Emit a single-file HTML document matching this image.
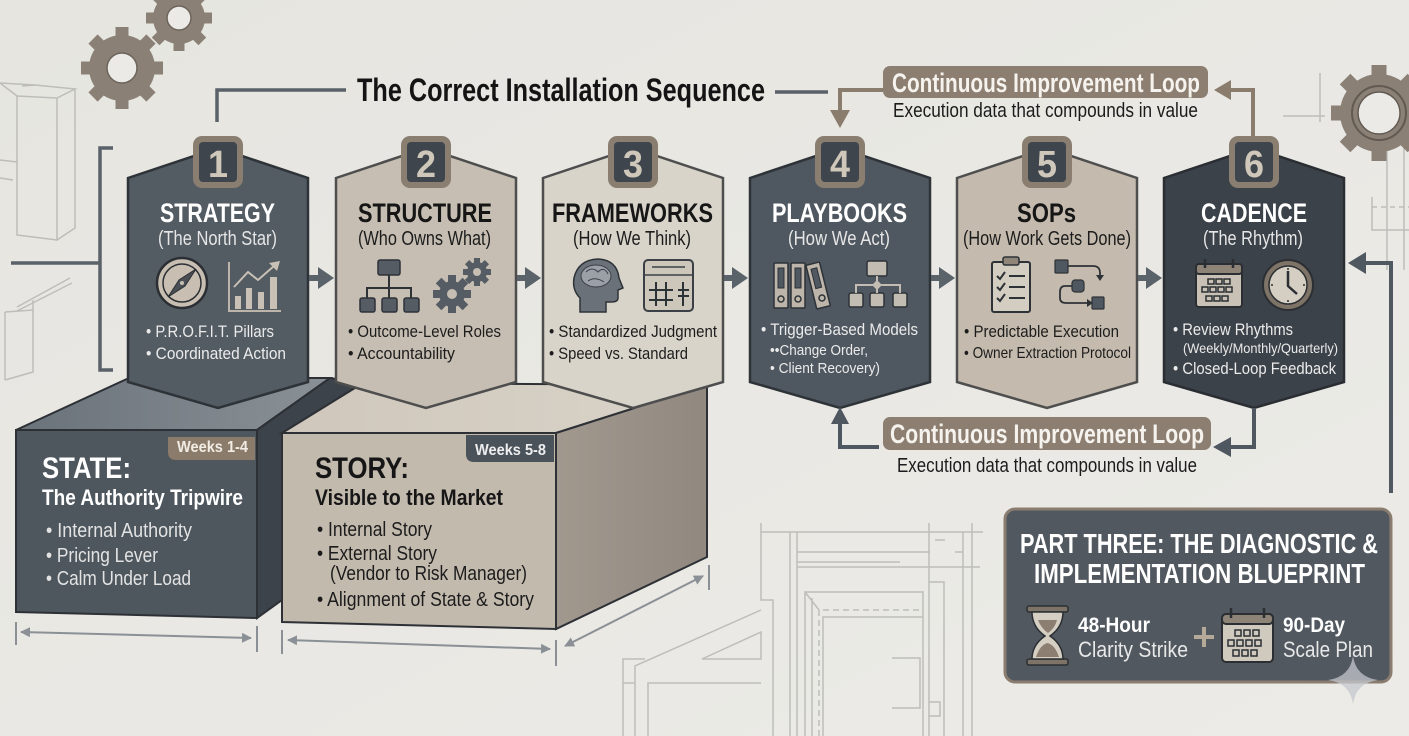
<!DOCTYPE html>
<html><head><meta charset="utf-8"><style>
html,body{margin:0;padding:0;background:#e8e7e2;}
svg{display:block;}
text{font-family:"Liberation Sans Narrow","Liberation Sans",sans-serif;}
.b{font-weight:bold;}
</style></head><body>
<svg width="1409" height="736" viewBox="0 0 1409 736" xmlns="http://www.w3.org/2000/svg">
<defs>
<linearGradient id="bg" x1="0" y1="0" x2="1" y2="1"><stop offset="0" stop-color="#e6e5e0"/><stop offset="1" stop-color="#ecebe7"/></linearGradient>
<linearGradient id="stTop" x1="0" y1="0" x2="1" y2="0"><stop offset="0" stop-color="#6a727a"/><stop offset="1" stop-color="#8a9196"/></linearGradient>
<linearGradient id="syTop" x1="0" y1="0" x2="1" y2="0"><stop offset="0" stop-color="#cfc7bb"/><stop offset="1" stop-color="#d9d3c9"/></linearGradient>
<linearGradient id="sySide" x1="0" y1="0" x2="1" y2="0"><stop offset="0" stop-color="#a1988e"/><stop offset="1" stop-color="#918880"/></linearGradient>
<marker id="ah" viewBox="0 0 10 10" refX="9" refY="5" markerWidth="5" markerHeight="5" orient="auto-start-reverse"><path d="M0,0 L10,5 L0,10 Z" fill="#8a9096"/></marker>
</defs>
<rect width="1409" height="736" fill="url(#bg)"/>

<!-- faint background line drawings -->
<g fill="none" stroke="#bdbdb9" stroke-width="1.5">
<path d="M0,83 L35,85 L75,89 L57,98 L17,96 Z"/>
<path d="M17,96 L17,235 L57,240 L57,98"/>
<path d="M57,240 L75,228 L75,89"/>
<path d="M0,160 L17,162 M0,178 L13,180 M22,86 L35,85"/>
<path d="M17,307 L70,278 M17,311 L72,283"/>
<path d="M5,312 L33,310 L33,372 L5,380 M5,312 L5,380 M33,310 L33,300"/>
<!-- bottom blueprint -->
<path d="M761,523 L761,600 L773,600 L773,736 M761,532 L983,532 M790,532 L790,736 M797,532 L797,736"/>
<path d="M797,552 L930,552 M797,562 L900,562 M797,567 L980,567 M929,523 L929,736 M963,532 L963,736 M972,523 L972,736"/>
<path d="M929,582 L944,582 L944,736 M935,540 L945,540 M955,552 L963,552"/>
<path d="M805,736 L805,592 L923,592 L923,736 M812,736 L812,598 M823,736 L823,617 L923,617 M805,592 L819,610"/>
<path d="M819,610 L819,736 M823,610 L923,610" stroke-dasharray="6,4"/>
<path d="M892,658 L920,658 L920,708 L892,708 M929,702 L940,702 L940,716 L929,716"/>
<path d="M761,610 L635,666 L635,736 M648,736 L648,683 L761,683 M623,736 L623,659 L645,659 M702,659 L761,632 L761,659 Z M623,683 L635,683"/>
<!-- right side -->
<path d="M1283,116 L1325,116 M1320,73 L1320,122 M1372,197 L1372,230 L1409,230 M1387,150 L1387,270 M1404,120 L1404,270"/>
<path d="M1372,207 L1409,207" stroke-dasharray="5,4"/>
</g>

<!-- gears -->
<g fill="#8a8076">
<circle cx="122" cy="68" r="33"/>
<g><rect x="115.5" y="27" width="13" height="12" transform="rotate(0 122 68)"/><rect x="115.5" y="27" width="13" height="12" transform="rotate(45 122 68)"/><rect x="115.5" y="27" width="13" height="12" transform="rotate(90 122 68)"/><rect x="115.5" y="27" width="13" height="12" transform="rotate(135 122 68)"/><rect x="115.5" y="27" width="13" height="12" transform="rotate(180 122 68)"/><rect x="115.5" y="27" width="13" height="12" transform="rotate(225 122 68)"/><rect x="115.5" y="27" width="13" height="12" transform="rotate(270 122 68)"/><rect x="115.5" y="27" width="13" height="12" transform="rotate(315 122 68)"/></g>
<circle cx="179" cy="18" r="26"/>
<g><rect x="173.5" y="-15" width="11" height="10" transform="rotate(0 179 18)"/><rect x="173.5" y="-15" width="11" height="10" transform="rotate(45 179 18)"/><rect x="173.5" y="-15" width="11" height="10" transform="rotate(90 179 18)"/><rect x="173.5" y="-15" width="11" height="10" transform="rotate(135 179 18)"/><rect x="173.5" y="-15" width="11" height="10" transform="rotate(180 179 18)"/><rect x="173.5" y="-15" width="11" height="10" transform="rotate(225 179 18)"/><rect x="173.5" y="-15" width="11" height="10" transform="rotate(270 179 18)"/><rect x="173.5" y="-15" width="11" height="10" transform="rotate(315 179 18)"/></g>
<circle cx="1379" cy="113" r="39"/>
<g><rect x="1371.5" y="65" width="15" height="13" transform="rotate(0 1379 113)"/><rect x="1371.5" y="65" width="15" height="13" transform="rotate(45 1379 113)"/><rect x="1371.5" y="65" width="15" height="13" transform="rotate(90 1379 113)"/><rect x="1371.5" y="65" width="15" height="13" transform="rotate(135 1379 113)"/><rect x="1371.5" y="65" width="15" height="13" transform="rotate(180 1379 113)"/><rect x="1371.5" y="65" width="15" height="13" transform="rotate(225 1379 113)"/><rect x="1371.5" y="65" width="15" height="13" transform="rotate(270 1379 113)"/><rect x="1371.5" y="65" width="15" height="13" transform="rotate(315 1379 113)"/></g>
</g>
<circle cx="122" cy="68" r="15" fill="#ebeae6" stroke="#6c645b" stroke-width="1.5"/>
<circle cx="179" cy="18" r="12" fill="#ebeae6" stroke="#6c645b" stroke-width="1.5"/>
<circle cx="1379" cy="113" r="27" fill="none" stroke="#625a52" stroke-width="2"/>
<circle cx="1379" cy="113" r="21" fill="#ebeae6" stroke="#625a52" stroke-width="1.5"/>

<!-- bracket & title line -->
<g fill="none" stroke="#5a6169" stroke-width="3.5">
<path d="M113,148 L100,148 L100,370 L113,370"/>
<path d="M11,263 L100,263"/>
<path d="M217,122 L217,90 L346,90"/>
<path d="M775,92 L828,92"/>
</g>
<text x="357" y="101" class="b" font-size="32" fill="#141414" textLength="408" lengthAdjust="spacingAndGlyphs">The Correct Installation Sequence</text>

<!-- Top loop -->
<g fill="none" stroke="#8b7d6e" stroke-width="4">
<path d="M1253,136 L1253,90 L1230,90"/>
<path d="M883,90 L840,90 L840,112"/>
</g>
<polygon points="1231,80 1231,100 1214,90" fill="#8b7d6e"/>
<polygon points="830,110 850,110 840,128" fill="#8b7d6e"/>
<rect x="883" y="66" width="325" height="32" rx="7" fill="#8c7e70"/>
<text x="892" y="92" class="b" font-size="27" fill="#f6f3ee" textLength="308" lengthAdjust="spacingAndGlyphs">Continuous Improvement Loop</text>
<text x="893" y="117" font-size="20" fill="#1c1c1c" textLength="305" lengthAdjust="spacingAndGlyphs">Execution data that compounds in value</text>

<!-- Bottom blocks -->
<!-- STATE -->
<polygon points="16,430 129,378 330,378 257,430" fill="url(#stTop)" stroke="#2d3136" stroke-width="2"/>
<polygon points="257,430 330,378 363,383 282,433 282,600 257,618" fill="#3d434a" stroke="#2d3136" stroke-width="2"/>
<polygon points="16,430 257,430 257,618 16,612" fill="#4e565e" stroke="#2d3136" stroke-width="2"/>
<path d="M168,437 L255,437 L255,460 L176,460 Q168,460 168,452 Z" fill="#8b7b6b"/>
<text x="177" y="452" class="b" font-size="16" fill="#f1ece4" textLength="71" lengthAdjust="spacingAndGlyphs">Weeks 1-4</text>
<text x="42" y="478" class="b" font-size="30" fill="#ffffff" textLength="89" lengthAdjust="spacingAndGlyphs">STATE:</text>
<text x="42" y="505" class="b" font-size="22" fill="#ffffff" textLength="201" lengthAdjust="spacingAndGlyphs">The Authority Tripwire</text>
<text x="46" y="537" font-size="20" fill="#e3e3e3" textLength="146" lengthAdjust="spacingAndGlyphs">• Internal Authority</text>
<text x="46" y="562" font-size="20" fill="#e3e3e3" textLength="112" lengthAdjust="spacingAndGlyphs">• Pricing Lever</text>
<text x="46" y="585" font-size="20" fill="#e3e3e3" textLength="145" lengthAdjust="spacingAndGlyphs">• Calm Under Load</text>
<!-- STORY -->
<polygon points="282,433 363,383 707,385 556,433" fill="url(#syTop)" stroke="#2d3136" stroke-width="2"/>
<polygon points="556,433 707,385 707,557 556,629" fill="url(#sySide)" stroke="#2d3136" stroke-width="2"/>
<polygon points="282,433 556,433 556,629 282,622" fill="#c3baae" stroke="#2d3136" stroke-width="2"/>
<path d="M466,435 L554,435 L554,462 L474,462 Q466,462 466,454 Z" fill="#4a525a"/>
<text x="475" y="455" class="b" font-size="16" fill="#eeeeee" textLength="71" lengthAdjust="spacingAndGlyphs">Weeks 5-8</text>
<text x="315" y="478" class="b" font-size="30" fill="#161616" textLength="94" lengthAdjust="spacingAndGlyphs">STORY:</text>
<text x="315" y="505" class="b" font-size="22" fill="#161616" textLength="188" lengthAdjust="spacingAndGlyphs">Visible to the Market</text>
<text x="317" y="536" font-size="20" fill="#1c1c1c" textLength="115" lengthAdjust="spacingAndGlyphs">• Internal Story</text>
<text x="317" y="560" font-size="20" fill="#1c1c1c" textLength="120" lengthAdjust="spacingAndGlyphs">• External Story</text>
<text x="330" y="580" font-size="20" fill="#1c1c1c" textLength="197" lengthAdjust="spacingAndGlyphs">(Vendor to Risk Manager)</text>
<text x="317" y="606" font-size="20" fill="#1c1c1c" textLength="217" lengthAdjust="spacingAndGlyphs">• Alignment of State &amp; Story</text>

<!-- dimension lines -->
<g stroke="#8a9096" stroke-width="2" fill="none">
<path d="M21,632 L251,638" marker-start="url(#ah)" marker-end="url(#ah)"/>
<path d="M16,622 L16,645 M257,626 L257,652"/>
<path d="M288,640 L550,649" marker-start="url(#ah)" marker-end="url(#ah)"/>
<path d="M282,630 L282,654 M556,640 L556,666"/>
<path d="M565,646 L703,576" marker-start="url(#ah)" marker-end="url(#ah)"/>
<path d="M709,565 L709,590"/>
</g>

<!-- Hexagons -->
<path d="M128,178 L218,148 L308,178 L308,382 L218,408 L128,382Z" fill="#535b63" stroke="#2e3338" stroke-width="2.5"/>
<path d="M336,178 L426,148 L516,178 L516,382 L426,408 L336,382Z" fill="#c6beb2" stroke="#4d4e4d" stroke-width="2.5"/>
<path d="M543,178 L633,148 L723,178 L723,382 L633,408 L543,382Z" fill="#d9d4ca" stroke="#4d4e4d" stroke-width="2.5"/>
<path d="M750,178 L840,148 L930,178 L930,382 L840,408 L750,382Z" fill="#4f5760" stroke="#2e3338" stroke-width="2.5"/>
<path d="M957,178 L1047,148 L1137,178 L1137,382 L1047,408 L957,382Z" fill="#c4bbae" stroke="#4d4e4d" stroke-width="2.5"/>
<path d="M1164,178 L1254,148 L1344,178 L1344,382 L1254,408 L1164,382Z" fill="#3c4249" stroke="#2a2e33" stroke-width="2.5"/>

<!-- Number boxes -->
<g>
<rect x="193" y="136" width="50" height="52" rx="9" fill="#8a7e71"/><rect x="199" y="142" width="38" height="40" rx="4" fill="#3e454c"/>
<rect x="401" y="136" width="50" height="52" rx="9" fill="#8a7e71"/><rect x="407" y="142" width="38" height="40" rx="4" fill="#3e454c"/>
<rect x="608" y="136" width="50" height="52" rx="9" fill="#8a7e71"/><rect x="614" y="142" width="38" height="40" rx="4" fill="#3e454c"/>
<rect x="815" y="136" width="50" height="52" rx="9" fill="#8a7e71"/><rect x="821" y="142" width="38" height="40" rx="4" fill="#3e454c"/>
<rect x="1022" y="136" width="50" height="52" rx="9" fill="#8a7e71"/><rect x="1028" y="142" width="38" height="40" rx="4" fill="#3e454c"/>
<rect x="1229" y="136" width="50" height="52" rx="9" fill="#8a7e71"/><rect x="1235" y="142" width="38" height="40" rx="4" fill="#3e454c"/>
</g>
<g class="b" font-size="38" fill="#cfc7ba" font-weight="bold">
<text x="208" y="177" textLength="20" lengthAdjust="spacingAndGlyphs">1</text>
<text x="416" y="177" textLength="20" lengthAdjust="spacingAndGlyphs">2</text>
<text x="623" y="177" textLength="20" lengthAdjust="spacingAndGlyphs">3</text>
<text x="830" y="177" textLength="20" lengthAdjust="spacingAndGlyphs">4</text>
<text x="1037" y="177" textLength="20" lengthAdjust="spacingAndGlyphs">5</text>
<text x="1244" y="177" textLength="20" lengthAdjust="spacingAndGlyphs">6</text>
</g>

<!-- Arrows between hexes -->
<g fill="#5a626a">
<rect x="309" y="275" width="10" height="6"/><polygon points="318,267 334,278 318,289"/>
<rect x="517" y="275" width="9" height="6"/><polygon points="525,267 541,278 525,289"/>
<rect x="724" y="275" width="9" height="6"/><polygon points="732,267 748,278 732,289"/>
<rect x="931" y="275" width="9" height="6"/><polygon points="939,267 955,278 939,289"/>
<rect x="1138" y="275" width="9" height="6"/><polygon points="1146,267 1162,278 1146,289"/>
</g>

<!-- Hex texts -->
<g class="b" font-size="27" font-weight="bold">
<text x="160" y="222" fill="#ffffff" textLength="115" lengthAdjust="spacingAndGlyphs">STRATEGY</text>
<text x="358" y="222" fill="#161616" textLength="134" lengthAdjust="spacingAndGlyphs">STRUCTURE</text>
<text x="552" y="222" fill="#161616" textLength="161" lengthAdjust="spacingAndGlyphs">FRAMEWORKS</text>
<text x="772" y="222" fill="#ffffff" textLength="135" lengthAdjust="spacingAndGlyphs">PLAYBOOKS</text>
<text x="1017" y="222" fill="#161616" textLength="59" lengthAdjust="spacingAndGlyphs">SOPs</text>
<text x="1201" y="222" fill="#ffffff" textLength="106" lengthAdjust="spacingAndGlyphs">CADENCE</text>
</g>
<g font-size="20">
<text x="158" y="245" fill="#e6e6e6" textLength="119" lengthAdjust="spacingAndGlyphs">(The North Star)</text>
<text x="358" y="245" fill="#1c1c1c" textLength="133" lengthAdjust="spacingAndGlyphs">(Who Owns What)</text>
<text x="573" y="245" fill="#1c1c1c" textLength="118" lengthAdjust="spacingAndGlyphs">(How We Think)</text>
<text x="788" y="245" fill="#e6e6e6" textLength="102" lengthAdjust="spacingAndGlyphs">(How We Act)</text>
<text x="963" y="245" fill="#1c1c1c" textLength="168" lengthAdjust="spacingAndGlyphs">(How Work Gets Done)</text>
<text x="1203" y="245" fill="#e6e6e6" textLength="100" lengthAdjust="spacingAndGlyphs">(The Rhythm)</text>
</g>
<g font-size="17">
<text x="146" y="337" fill="#ebebeb" textLength="128" lengthAdjust="spacingAndGlyphs">• P.R.O.F.I.T. Pillars</text>
<text x="146" y="359" fill="#ebebeb" textLength="140" lengthAdjust="spacingAndGlyphs">• Coordinated Action</text>
<text x="348" y="337" fill="#1c1c1c" textLength="153" lengthAdjust="spacingAndGlyphs">• Outcome-Level Roles</text>
<text x="348" y="359" fill="#1c1c1c" textLength="107" lengthAdjust="spacingAndGlyphs">• Accountability</text>
<text x="549" y="337" fill="#1c1c1c" textLength="168" lengthAdjust="spacingAndGlyphs">• Standardized Judgment</text>
<text x="549" y="359" fill="#1c1c1c" textLength="139" lengthAdjust="spacingAndGlyphs">• Speed vs. Standard</text>
<text x="761" y="335" fill="#ebebeb" textLength="157" lengthAdjust="spacingAndGlyphs">• Trigger-Based Models</text>
<text x="770" y="355" fill="#ebebeb" font-size="15" textLength="98" lengthAdjust="spacingAndGlyphs">••Change Order,</text>
<text x="770" y="373" fill="#ebebeb" font-size="15" textLength="110" lengthAdjust="spacingAndGlyphs">• Client Recovery)</text>
<text x="964" y="337" fill="#1c1c1c" textLength="155" lengthAdjust="spacingAndGlyphs">• Predictable Execution</text>
<text x="964" y="358" fill="#1c1c1c" font-size="16" textLength="167" lengthAdjust="spacingAndGlyphs">• Owner Extraction Protocol</text>
<text x="1173" y="335" fill="#ebebeb" textLength="120" lengthAdjust="spacingAndGlyphs">• Review Rhythms</text>
<text x="1183" y="353" fill="#ebebeb" font-size="14" textLength="155" lengthAdjust="spacingAndGlyphs">(Weekly/Monthly/Quarterly)</text>
<text x="1173" y="374" fill="#ebebeb" textLength="163" lengthAdjust="spacingAndGlyphs">• Closed-Loop Feedback</text>
</g>

<!-- Icons hex1 -->
<circle cx="182" cy="283" r="25" fill="#c8bfb2" stroke="#2b2f33" stroke-width="2.5"/>
<circle cx="182" cy="283" r="19" fill="none" stroke="#2b2f33" stroke-width="1.5"/>
<polygon points="196,269 185,286 168,297 179,280" fill="#4a4f55" stroke="#2b2f33" stroke-width="1"/>
<circle cx="182" cy="283" r="2" fill="#c8bfb2"/>
<path d="M229,262 L229,311 L281,311" fill="none" stroke="#bdb5a9" stroke-width="2"/>
<g fill="#c9c1b5"><rect x="235" y="296" width="6" height="13"/><rect x="246" y="288" width="6" height="21"/><rect x="258" y="292" width="6" height="17"/><rect x="270" y="277" width="7" height="32"/></g>
<path d="M234,287 L248,272 L258,280 L274,266" fill="none" stroke="#c9c1b5" stroke-width="2"/>
<polygon points="269,263 280,261 277,271" fill="#c9c1b5"/>
<!-- Icons hex2 -->
<g fill="#555c64" stroke="#2d3237" stroke-width="1.5">
<rect x="378" y="260" width="22" height="15" rx="2"/>
<rect x="360" y="298" width="15" height="14" rx="2"/><rect x="382" y="298" width="15" height="14" rx="2"/><rect x="404" y="298" width="15" height="14" rx="2"/>
</g>
<path d="M389,275 L389,298 M367,298 L367,288 L411,288 L411,298" fill="none" stroke="#2d3237" stroke-width="2"/>
<g fill="#555c64">
<circle cx="452" cy="294" r="13"/>
<rect x="448" y="275" width="8" height="8" transform="rotate(0 452 294)"/><rect x="448" y="275" width="8" height="8" transform="rotate(45 452 294)"/><rect x="448" y="275" width="8" height="8" transform="rotate(90 452 294)"/><rect x="448" y="275" width="8" height="8" transform="rotate(135 452 294)"/><rect x="448" y="275" width="8" height="8" transform="rotate(180 452 294)"/><rect x="448" y="275" width="8" height="8" transform="rotate(225 452 294)"/><rect x="448" y="275" width="8" height="8" transform="rotate(270 452 294)"/><rect x="448" y="275" width="8" height="8" transform="rotate(315 452 294)"/>
<circle cx="477" cy="272" r="10"/>
<rect x="474" y="258" width="6" height="6" transform="rotate(0 477 272)"/><rect x="474" y="258" width="6" height="6" transform="rotate(45 477 272)"/><rect x="474" y="258" width="6" height="6" transform="rotate(90 477 272)"/><rect x="474" y="258" width="6" height="6" transform="rotate(135 477 272)"/><rect x="474" y="258" width="6" height="6" transform="rotate(180 477 272)"/><rect x="474" y="258" width="6" height="6" transform="rotate(225 477 272)"/><rect x="474" y="258" width="6" height="6" transform="rotate(270 477 272)"/><rect x="474" y="258" width="6" height="6" transform="rotate(315 477 272)"/>
</g>
<circle cx="452" cy="294" r="5" fill="#c6beb2"/><circle cx="477" cy="272" r="4" fill="#c6beb2"/>
<!-- Icons hex3 -->
<path d="M580,312 L580,298 Q572,290 574,278 Q578,260 598,259 Q617,260 619,278 L623,288 L618,290 L618,298 Q618,302 611,302 L606,302 L606,312 Z" fill="#6b7179" stroke="#2d3237" stroke-width="1.5"/>
<ellipse cx="596" cy="276" rx="15" ry="11" fill="#9aa0a6" stroke="#3b4046" stroke-width="1"/>
<path d="M586,272 Q592,266 598,272 Q604,266 608,274 M588,281 Q595,276 604,282" fill="none" stroke="#3b4046" stroke-width="1"/>
<rect x="644" y="260" width="49" height="51" rx="4" fill="#ccc6bb" stroke="#3b4046" stroke-width="2"/>
<path d="M644,275 L693,275 M652,267 L685,267" stroke="#3b4046" stroke-width="1.5"/>
<path d="M649,290 L673,290 M649,300 L673,300 M656,282 L656,306 M666,282 L666,306 M678,290 L689,290 M678,296 L689,296 M683,282 L683,306" stroke="#2d3237" stroke-width="2"/>
<!-- Icons hex4 -->
<g fill="#bdb5a9" stroke="#2d3237" stroke-width="1.5">
<rect x="774" y="263" width="14" height="45" rx="1"/>
<rect x="791" y="263" width="14" height="45" rx="1"/>
<rect x="811" y="263" width="14" height="45" rx="1" transform="rotate(-14 818 285)"/>
</g>
<g fill="#4f5760" stroke="#2d3237" stroke-width="1">
<rect x="778" y="268" width="6" height="20"/><rect x="795" y="268" width="6" height="20"/><rect x="815" y="268" width="6" height="20" transform="rotate(-14 818 285)"/>
</g>
<g fill="none" stroke="#2d3237" stroke-width="1.5"><circle cx="781" cy="299" r="3"/><circle cx="798" cy="299" r="3"/><circle cx="822" cy="298" r="3"/></g>
<g fill="#c2bcb3" stroke="#2d3237" stroke-width="1.5">
<rect x="867" y="261" width="20" height="15" rx="2"/>
<rect x="849" y="293" width="14" height="14" rx="2"/><rect x="870" y="293" width="14" height="14" rx="2"/><rect x="893" y="293" width="14" height="14" rx="2"/>
</g>
<path d="M877,276 L877,293 M856,293 L856,285 L900,285 L900,293" fill="none" stroke="#c2bcb3" stroke-width="2"/>
<polygon points="877,280 882,285 877,290 872,285" fill="#c2bcb3"/>
<!-- Icons hex5 -->
<rect x="992" y="262" width="38" height="50" rx="2" fill="#d4cdc2" stroke="#2d3237" stroke-width="2"/>
<rect x="1003" y="257" width="16" height="8" rx="2" fill="#8f8579" stroke="#2d3237" stroke-width="1.5"/>
<path d="M997,276 L1000,279 L1005,272 M997,287 L1000,290 L1005,283 M997,298 L1000,301 L1005,294 M1009,276 L1025,276 M1009,287 L1025,287 M1009,298 L1025,298" fill="none" stroke="#2d3237" stroke-width="2"/>
<g fill="#4f5760" stroke="#2d3237" stroke-width="1.2"><rect x="1055" y="260" width="13" height="13" rx="1"/><rect x="1072" y="280" width="12" height="12" rx="3"/><rect x="1092" y="297" width="12" height="12" rx="1"/></g>
<path d="M1068,266 L1093,266 Q1100,266 1100,273 L1100,276 M1072,286 L1065,286 Q1060,286 1060,292 L1060,298 Q1060,303 1066,303 L1090,303" fill="none" stroke="#2d3237" stroke-width="1.8"/>
<polygon points="1096,275 1104,275 1100,281" fill="#2d3237"/><polygon points="1087,299 1093,303 1087,307" fill="#2d3237"/>
<!-- Icons hex6 -->
<rect x="1196" y="264" width="46" height="43" rx="3" fill="#c9c1b5" stroke="#2b2f33" stroke-width="2"/>
<rect x="1196" y="264" width="46" height="10" rx="3" fill="#8d8377" stroke="#2b2f33" stroke-width="2"/>
<path d="M1205,259 L1205,268 M1233,259 L1233,268" stroke="#2b2f33" stroke-width="2.5"/>
<g fill="none" stroke="#2b2f33" stroke-width="1.5">
<rect x="1208" y="279" width="6" height="5"/><rect x="1216" y="279" width="6" height="5"/><rect x="1224" y="279" width="6" height="5"/>
<rect x="1202" y="287" width="6" height="5"/><rect x="1210" y="287" width="6" height="5"/><rect x="1218" y="287" width="6" height="5"/><rect x="1226" y="287" width="6" height="5"/>
<rect x="1206" y="296" width="6" height="5"/><rect x="1214" y="296" width="6" height="5"/><rect x="1222" y="296" width="6" height="5"/>
</g>
<circle cx="1288" cy="285" r="25" fill="#7d7367" stroke="#2b2f33" stroke-width="2"/>
<circle cx="1288" cy="285" r="19" fill="#d5cec3" stroke="#2b2f33" stroke-width="1.5"/>
<path d="M1288,271 L1288,286 L1297,294" fill="none" stroke="#2b2f33" stroke-width="2.5"/>
<path d="M1288,268 L1288,270 M1305,285 L1303,285 M1288,302 L1288,300 M1271,285 L1273,285" stroke="#2b2f33" stroke-width="1.5"/>

<!-- Bottom loop -->
<g fill="none" stroke="#4f5760" stroke-width="4">
<path d="M879,447 L840,447 L840,422"/>
<path d="M1254,408 L1254,447 L1229,447"/>
</g>
<polygon points="831,424 849,424 840,407" fill="#4f5760"/>
<polygon points="1231,437 1231,457 1213,447" fill="#4f5760"/>
<rect x="883" y="417" width="328" height="33" rx="7" fill="#8c7e70"/>
<text x="890" y="443" class="b" font-size="27" fill="#f6f3ee" textLength="314" lengthAdjust="spacingAndGlyphs">Continuous Improvement Loop</text>
<text x="897" y="472" font-size="20" fill="#1c1c1c" textLength="300" lengthAdjust="spacingAndGlyphs">Execution data that compounds in value</text>

<!-- Right return arrow -->
<path d="M1391,493 L1391,263 L1364,263" fill="none" stroke="#4f5760" stroke-width="4"/>
<polygon points="1366,252 1366,274 1348,263" fill="#4f5760"/>

<!-- Part three box -->
<rect x="1005" y="509" width="386" height="173" rx="10" fill="#51585f" stroke="#8a7d70" stroke-width="3"/>
<text x="1020" y="553" class="b" font-size="28" fill="#ffffff" textLength="358" lengthAdjust="spacingAndGlyphs">PART THREE: THE DIAGNOSTIC &amp;</text>
<text x="1034" y="583" class="b" font-size="28" fill="#ffffff" textLength="331" lengthAdjust="spacingAndGlyphs">IMPLEMENTATION BLUEPRINT</text>
<!-- hourglass -->
<rect x="1027" y="606" width="41" height="6" rx="2" fill="#7d7367" stroke="#2b2f33" stroke-width="1.5"/>
<rect x="1027" y="659" width="41" height="6" rx="2" fill="#7d7367" stroke="#2b2f33" stroke-width="1.5"/>
<path d="M1032,612 L1063,612 Q1063,627 1050,636 Q1063,645 1063,659 L1032,659 Q1032,645 1045,636 Q1032,627 1032,612 Z" fill="#d5cec3" stroke="#2b2f33" stroke-width="1.5"/>
<path d="M1038,620 L1057,620 Q1055,628 1048,633 Q1041,628 1038,620 Z M1036,657 Q1040,645 1047.5,643 Q1055,645 1059,657 Z" fill="#8c7e70"/>
<text x="1078" y="632" class="b" font-size="21" fill="#ffffff" textLength="72" lengthAdjust="spacingAndGlyphs">48-Hour</text>
<text x="1078" y="657" font-size="22" fill="#e8e8e8" textLength="110" lengthAdjust="spacingAndGlyphs">Clarity Strike</text>
<path d="M1204,627 L1204,647 M1194,637 L1214,637" stroke="#b5a998" stroke-width="4"/>
<!-- calendar -->
<rect x="1222" y="614" width="51" height="48" rx="4" fill="#d0c9be" stroke="#2b2f33" stroke-width="2"/>
<rect x="1222" y="614" width="51" height="10" rx="4" fill="#8d8377" stroke="#2b2f33" stroke-width="2"/>
<path d="M1231,608 L1231,618 M1264,608 L1264,618" stroke="#2b2f33" stroke-width="2.5"/>
<g fill="none" stroke="#2b2f33" stroke-width="1.5">
<rect x="1235" y="630" width="6" height="6"/><rect x="1244" y="630" width="6" height="6"/><rect x="1253" y="630" width="6" height="6"/>
<rect x="1228" y="640" width="6" height="6"/><rect x="1237" y="640" width="6" height="6"/><rect x="1246" y="640" width="6" height="6"/><rect x="1255" y="640" width="6" height="6"/>
<rect x="1233" y="650" width="6" height="6"/><rect x="1242" y="650" width="6" height="6"/><rect x="1251" y="650" width="6" height="6"/>
</g>
<text x="1283" y="632" class="b" font-size="21" fill="#ffffff" textLength="62" lengthAdjust="spacingAndGlyphs">90-Day</text>
<text x="1283" y="657" font-size="22" fill="#e8e8e8" textLength="90" lengthAdjust="spacingAndGlyphs">Scale Plan</text>
<!-- sparkle -->
<path d="M1353,656 Q1356,677 1378,680 Q1356,683 1353,704 Q1350,683 1328,680 Q1350,677 1353,656 Z" fill="#c4c7cc" opacity="0.75"/>
</svg>
</body></html>
